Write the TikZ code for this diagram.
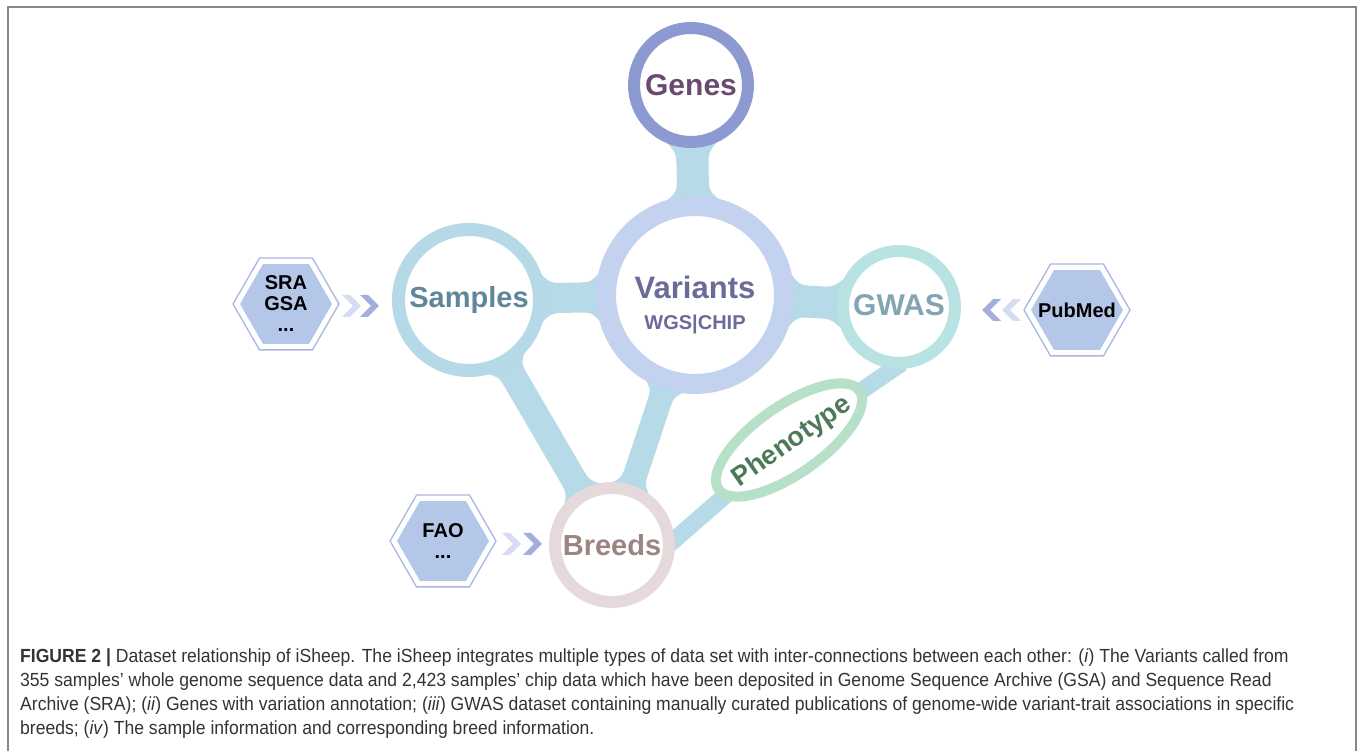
\documentclass[tikz,border=0pt]{standalone}
\usepackage{fontspec}
\setmainfont{Liberation Sans}
\newfontfamily\capfont{Liberation Sans}[FakeStretch=0.925]
\usetikzlibrary{shapes.geometric,calc,backgrounds}
\definecolor{genesring}{HTML}{8D9AD2}
\definecolor{genestext}{HTML}{6A4A70}
\definecolor{varring}{HTML}{C3D3EF}
\definecolor{vartext}{HTML}{6B6B99}
\definecolor{samring}{HTML}{B5D9E7}
\definecolor{samtext}{HTML}{5E879B}
\definecolor{gwasring}{HTML}{B9E2E3}
\definecolor{gwastext}{HTML}{82A4B3}
\definecolor{brring}{HTML}{E5D9DB}
\definecolor{brtext}{HTML}{9D8381}
\definecolor{phring}{HTML}{B7E0C8}
\definecolor{phtext}{HTML}{4C7A58}
\definecolor{bandc}{HTML}{B6DAE8}
\definecolor{hexline}{HTML}{A9B6E3}
\definecolor{hexfill}{HTML}{B5C7E8}
\definecolor{chevlight}{HTML}{D6DCF1}
\definecolor{chevdark}{HTML}{A4AEDC}
\definecolor{framegray}{HTML}{888888}
\definecolor{capgray}{HTML}{333333}
% band between two ring nodes: node a, radius a, node b, radius b, half width
\newcommand\band[5]{%
  \fill[bandc] let \p1=(#1.center), \p2=(#3.center),
    \n1={atan2(\y2-\y1,\x2-\x1)}, \n2={asin(2.2*#5/#2)}, \n3={asin(2.2*#5/#4)} in
    ($(\p1)+(\n1+\n2:{#2-4})$)
    .. controls ($(\p1)+(\n1:{#2+4})+(\n1+90:#5)$) .. ($(\p1)+(\n1:{#2+18})+(\n1+90:#5)$)
    -- ($(\p2)+(\n1:{-#4-18})+(\n1+90:#5)$)
    .. controls ($(\p2)+(\n1:{-#4-4})+(\n1+90:#5)$) .. ($(\p2)+(\n1+180-\n3:{#4-4})$)
    -- ($(\p2)+(\n1+180+\n3:{#4-4})$)
    .. controls ($(\p2)+(\n1:{-#4-4})+(\n1-90:#5)$) .. ($(\p2)+(\n1:{-#4-18})+(\n1-90:#5)$)
    -- ($(\p1)+(\n1:{#2+18})+(\n1-90:#5)$)
    .. controls ($(\p1)+(\n1:{#2+4})+(\n1-90:#5)$) .. ($(\p1)+(\n1-\n2:{#2-4})$) -- cycle;}
\begin{document}
\begin{tikzpicture}[x=1pt,y=1pt,
    ring/.style={circle,fill=white,inner sep=0pt},
    hexout/.style={regular polygon,regular polygon sides=6,draw=hexline,line width=1.3pt,
      fill=white,minimum size=106pt,inner sep=0pt},
    hexin/.style={regular polygon,regular polygon sides=6,fill=hexfill,minimum size=92pt,
      inner sep=0pt},
    hextext/.style={align=center,inner sep=0pt,font=\bfseries\fontsize{20}{21}\selectfont},
    captext/.style={anchor=base west,inner sep=0pt,text=capgray,
      font=\capfont\fontsize{19}{24}\selectfont}]
  \useasboundingbox (0,0) rectangle (1363,751);
  \draw[framegray,line width=2pt](8,0)--(8,744)--(1356,744)--(1356,0);

  % rings
  \node[ring,draw=genesring,line width=12pt,minimum size=114pt,text=genestext,
    font=\bfseries\fontsize{30}{32}\selectfont] (genes) at (691,666) {Genes};
  \node[ring,draw=varring,line width=20pt,minimum size=178pt] (variants) at (695,456) {};
  \node[align=center,text=vartext,font=\bfseries] (varlabel) at (695,446)
    {{\fontsize{31}{34}\selectfont Variants}\\[16pt]{\fontsize{20}{22}\selectfont WGS|CHIP}};
  \node[ring,draw=samring,line width=13pt,minimum size=141pt,text=samtext,
    font=\bfseries\fontsize{29}{31}\selectfont] (samples) at (469,451) {Samples};
  \node[ring,draw=gwasring,line width=12pt,minimum size=112pt,text=gwastext,
    font=\bfseries\fontsize{30}{32}\selectfont] (gwas) at (899,444) {\raisebox{4pt}{GWAS}};
  \node[ring,draw=brring,line width=12pt,minimum size=114pt,text=brtext,
    font=\bfseries\fontsize{29}{31}\selectfont] (breeds) at (612,206) {Breeds};
  \node[ellipse,draw=phring,line width=10pt,fill=white,minimum width=172pt,minimum height=68pt,
    inner sep=0pt,rotate=35] (pheno) at (789,311) {};
  \node[rotate=35,inner sep=0pt,text=phtext,font=\bfseries\fontsize{27}{29}\selectfont]
    (phlabel) at ($(pheno)+(3,-2)$) {Phenotype};

  % bands
  \begin{scope}[on background layer]
    \band{genes}{63}{variants}{99}{16}
    \band{samples}{77}{variants}{99}{15}
    \band{variants}{99}{gwas}{62}{16}
    \band{samples}{77}{breeds}{63}{13}
    \band{variants}{99}{breeds}{63}{12}
    \draw[bandc,line width=17pt,shorten <=-10pt,shorten >=-10pt]
      (gwas.265)--(pheno.center)--(breeds.5);
  \end{scope}

  % sources
  \node[hexout] (srahex) at (286,447) {};
  \node[hexin] (srafill) at (srahex) {};
  \node[hextext] (sra) at (srahex) {SRA\\GSA\\...};
  \node[hexout] (faohex) at (443,210) {};
  \node[hexin] (faofill) at (faohex) {};
  \node[hextext] (fao) at (faohex) {FAO\\...};
  \node[hexout] (pubhex) at (1077,441) {};
  \node[hexin] (pubfill) at (pubhex) {};
  \node[hextext] (pubmed) at (pubhex) {PubMed};

  % chevrons
  \fill[chevlight,shift={(342,445)}](0,-11)--(8,-11)--(19,0)--(8,11)--(0,11)--(11,0)--cycle;
  \fill[chevdark,shift={(360,445)}](0,-11)--(8,-11)--(19,0)--(8,11)--(0,11)--(11,0)--cycle;
  \fill[chevlight,shift={(502,207)}](0,-11)--(8,-11)--(19,0)--(8,11)--(0,11)--(11,0)--cycle;
  \fill[chevdark,shift={(523,207)}](0,-11)--(8,-11)--(19,0)--(8,11)--(0,11)--(11,0)--cycle;
  \fill[chevdark,shift={(982,441)}](0,0)--(11,-11)--(19,-11)--(8,0)--(19,11)--(11,11)--cycle;
  \fill[chevlight,shift={(1002,441)}](0,0)--(11,-11)--(19,-11)--(8,0)--(19,11)--(11,11)--cycle;

  % caption
  \node[captext] (cap1) at (20,88) {\textbf{FIGURE 2 |} Dataset relationship of iSheep. The iSheep integrates multiple types of data set with inter-connections between each other: (\textit{i}) The Variants called from};
  \node[captext] (cap2) at (20,64) {355 samples’ whole genome sequence data and 2,423 samples’ chip data which have been deposited in Genome Sequence Archive (GSA) and Sequence Read};
  \node[captext] (cap3) at (20,40) {Archive (SRA); (\textit{ii}) Genes with variation annotation; (\textit{iii}) GWAS dataset containing manually curated publications of genome-wide variant-trait associations in specific};
  \node[captext] (cap4) at (20,16) {breeds; (\textit{iv}) The sample information and corresponding breed information.};
\end{tikzpicture}
\end{document}
